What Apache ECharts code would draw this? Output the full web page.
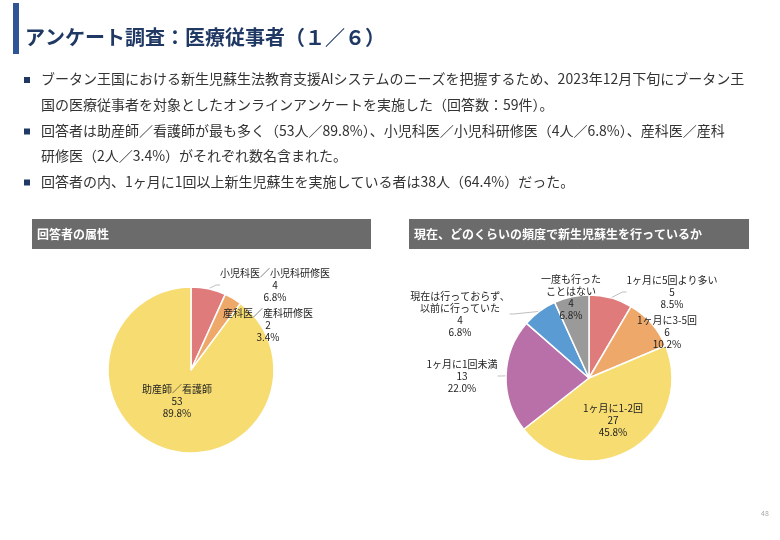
<!DOCTYPE html>
<html>
<head>
<meta charset="utf-8">
<script src="https://cdn.jsdelivr.net/npm/echarts@6/dist/echarts.min.js"></script>
<style>
html,body{margin:0;padding:0;background:#fff;}
#chart{width:780px;height:540px;}
</style>
</head>
<body>
<div id="chart"></div>
<script>
// ---- data ----
const pageTitle = 'アンケート調査：医療従事者（１／６）';
const bulletLines = [
  'ブータン王国における新生児蘇生法教育支援AIシステムのニーズを把握するため、2023年12月下旬にブータン王',
  '国の医療従事者を対象としたオンラインアンケートを実施した（回答数：59件）。',
  '回答者は助産師／看護師が最も多く（53人／89.8%）、小児科医／小児科研修医（4人／6.8%）、産科医／産科',
  '研修医（2人／3.4%）がそれぞれ数名含まれた。',
  '回答者の内、1ヶ月に1回以上新生児蘇生を実施している者は38人（64.4%）だった。'
];
const bulletFlags = [true, false, true, false, true];
const leftHeader = '回答者の属性';
const rightHeader = '現在、どのくらいの頻度で新生児蘇生を行っているか';
const attrCategories = ['小児科医／小児科研修医', '産科医／産科研修医', '助産師／看護師'];
const attrValues = [4, 2, 53];
const freqCategories = ['1ヶ月に5回より多い', '1ヶ月に3-5回', '1ヶ月に1-2回', '1ヶ月に1回未満', '現在は行っておらず、\n以前に行っていた', '一度も行った\nことはない'];
const freqValues = [5, 6, 27, 13, 4, 4];
const pageNumber = '48';

// ---- styles / layout ----
const FONT = '"Noto Sans CJK JP", "Noto Sans", sans-serif';
const attrColors = ['#e07b7c', '#eea869', '#f7dc72'];
const freqColors = ['#e07b7c', '#eea869', '#f7dc72', '#b970a8', '#5b9bd3', '#9a9a9a'];
const attrLabelOffsets = [[84, -85], [77, -45], [-14, 31]];
const attrLabelLines = [true, true, false];
const freqLabelOffsets = [[83, -86], [78, -46], [24, 42], [-127, -2], [-129, -64], [-18, -81]];
const freqLabelLines = [true, false, false, true, true, false];
const leftCenter = [191, 370];
const rightCenter = [589, 378];
const R = 83;

function sum(a){ return a.reduce((s, v) => s + v, 0); }

function buildPie(cats, vals, colors, center, offsets, lines) {
  const total = sum(vals);
  return {
    type: 'pie',
    center: center,
    radius: R,
    startAngle: 90,
    clockwise: true,
    avoidLabelOverlap: false,
    animation: false,
    silent: true,
    itemStyle: { borderColor: '#ffffff', borderWidth: 1.5 },
    label: {
      show: true,
      position: 'outside',
      fontFamily: FONT,
      fontSize: 10,
      lineHeight: 12,
      color: '#222',
      formatter: p => p.name + '\n' + p.value + '\n' + (p.value / total * 100).toFixed(1) + '%'
    },
    labelLine: { show: true, length: 4, length2: 4, lineStyle: { color: '#bfbfbf', width: 1 } },
    labelLayout: function (params) {
      const o = offsets[params.dataIndex];
      return { x: center[0] + o[0], y: center[1] + o[1], align: 'center', verticalAlign: 'middle' };
    },
    data: cats.map((c, i) => ({
      name: c,
      value: vals[i],
      itemStyle: { color: colors[i] },
      labelLine: { show: lines[i] }
    }))
  };
}

const graphics = [];
// title bar
graphics.push({ type: 'rect', shape: { x: 13, y: 3, width: 6, height: 51 }, style: { fill: '#2f5597' } });
graphics.push({ type: 'text', x: 25, y: 37, style: { text: pageTitle, font: 'bold 20px ' + FONT, fill: '#1f3864', verticalAlign: 'middle' } });
// bullet lines
const lineY = [79, 105, 130.5, 156, 181.5];
bulletLines.forEach((t, i) => {
  if (bulletFlags[i]) {
    graphics.push({ type: 'rect', shape: { x: 24, y: lineY[i] - 2, width: 6, height: 6 }, style: { fill: '#1f3864' } });
  }
  graphics.push({ type: 'text', x: 41, y: lineY[i], style: { text: t, font: '14px ' + FONT, fill: '#333', verticalAlign: 'middle' } });
});
// header boxes
graphics.push({ type: 'rect', shape: { x: 32, y: 219, width: 339, height: 30 }, style: { fill: '#6b6b6b' } });
graphics.push({ type: 'text', x: 37, y: 234, style: { text: leftHeader, font: 'bold 12px ' + FONT, fill: '#fff', verticalAlign: 'middle' } });
graphics.push({ type: 'rect', shape: { x: 409, y: 219, width: 340, height: 30 }, style: { fill: '#6b6b6b' } });
graphics.push({ type: 'text', x: 414, y: 234, style: { text: rightHeader, font: 'bold 12px ' + FONT, fill: '#fff', verticalAlign: 'middle' } });
// page number
graphics.push({ type: 'text', x: 765, y: 513, style: { text: pageNumber, font: '7px ' + FONT, fill: '#aaa', align: 'center', verticalAlign: 'middle' } });

const chart = echarts.init(document.getElementById('chart'), null, { renderer: 'canvas' });
chart.setOption({
  backgroundColor: '#ffffff',
  animation: false,
  graphic: graphics,
  series: [
    buildPie(attrCategories, attrValues, attrColors, leftCenter, attrLabelOffsets, attrLabelLines),
    buildPie(freqCategories, freqValues, freqColors, rightCenter, freqLabelOffsets, freqLabelLines)
  ]
});
</script>
</body>
</html>
